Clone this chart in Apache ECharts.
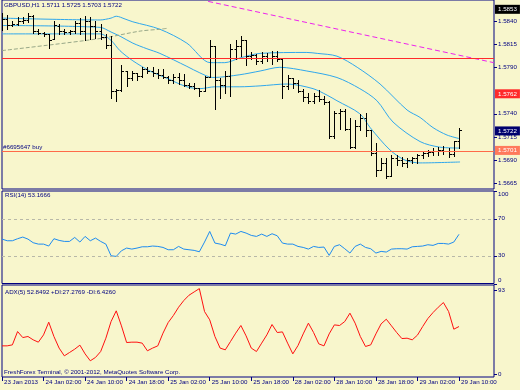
<!DOCTYPE html>
<html><head><meta charset="utf-8">
<script src="https://cdn.jsdelivr.net/npm/echarts@6/dist/echarts.min.js"></script>
<style>html,body{margin:0;padding:0;background:#f8f6cc}#c{width:520px;height:390px}</style>
</head><body><div id="c"></div>
<script>
// ---------- data ----------
const symbol = "GBPUSD,H1";
// bars: [open, high, low, close], hourly, first bar 23 Jan 18:00, last 29 Jan 10:00
const ohlc = [
[1.5840,1.5848,1.5830,1.5842],[1.5842,1.5846,1.5831,1.5836],[1.5836,1.5840,1.5834,1.5837],[1.5837,1.5844,1.5836,1.5840],
[1.5840,1.5844,1.5838,1.5841],[1.5841,1.5849,1.5839,1.5845],[1.5845,1.5846,1.5827,1.5829],[1.5829,1.5831,1.5826,1.5827],
[1.5827,1.5828,1.5824,1.5826],[1.5826,1.5826,1.5811,1.5819],[1.5820,1.5840,1.5820,1.5836],[1.5835,1.5837,1.5826,1.5829],
[1.5829,1.5831,1.5826,1.5828],[1.5828,1.5830,1.5826,1.5829],[1.5829,1.5840,1.5827,1.5838],[1.5838,1.5843,1.5826,1.5829],
[1.5829,1.5845,1.5819,1.5840],[1.5840,1.5844,1.5820,1.5835],[1.5835,1.5840,1.5822,1.5829],[1.5829,1.5837,1.5821,1.5823],
[1.5823,1.5826,1.5811,1.5814],[1.5814,1.5824,1.5757,1.5765],[1.5765,1.5767,1.5754,1.5766],[1.5766,1.5792,1.5765,1.5786],
[1.5786,1.5786,1.5770,1.5778],[1.5778,1.5786,1.5776,1.5784],[1.5784,1.5784,1.5776,1.5781],[1.5781,1.5790,1.5780,1.5788],
[1.5788,1.5790,1.5784,1.5786],[1.5786,1.5790,1.5781,1.5784],[1.5784,1.5788,1.5779,1.5782],[1.5782,1.5788,1.5778,1.5780],
[1.5780,1.5781,1.5773,1.5776],[1.5776,1.5783,1.5773,1.5780],[1.5780,1.5784,1.5772,1.5776],[1.5776,1.5783,1.5770,1.5771],
[1.5771,1.5773,1.5768,1.5770],[1.5770,1.5773,1.5767,1.5768],[1.5768,1.5768,1.5759,1.5765],[1.5765,1.5781,1.5765,1.5780],
[1.5780,1.5819,1.5780,1.5813],[1.5813,1.5813,1.5745,1.5776],[1.5776,1.5779,1.5757,1.5771],[1.5771,1.5786,1.5762,1.5781],
[1.5781,1.5815,1.5759,1.5810],[1.5810,1.5819,1.5799,1.5813],[1.5813,1.5824,1.5802,1.5819],[1.5819,1.5819,1.5792,1.5802],
[1.5802,1.5806,1.5799,1.5803],[1.5803,1.5804,1.5794,1.5797],[1.5797,1.5806,1.5795,1.5802],[1.5802,1.5805,1.5797,1.5800],
[1.5800,1.5808,1.5794,1.5802],[1.5802,1.5808,1.5797,1.5799],[1.5799,1.5799,1.5757,1.5770],[1.5770,1.5782,1.5767,1.5778],
[1.5778,1.5779,1.5768,1.5773],[1.5773,1.5776,1.5763,1.5765],[1.5765,1.5767,1.5754,1.5758],[1.5758,1.5762,1.5752,1.5754],
[1.5754,1.5762,1.5752,1.5759],[1.5759,1.5766,1.5754,1.5756],[1.5756,1.5759,1.5751,1.5753],[1.5753,1.5754,1.5714,1.5716],
[1.5716,1.5743,1.5714,1.5741],[1.5741,1.5745,1.5723,1.5743],[1.5743,1.5745,1.5722,1.5724],[1.5724,1.5735,1.5703,1.5704],
[1.5704,1.5733,1.5703,1.5727],[1.5727,1.5740,1.5722,1.5735],[1.5735,1.5741,1.5716,1.5722],[1.5722,1.5722,1.5695,1.5698],
[1.5698,1.5708,1.5673,1.5679],[1.5679,1.5692,1.5679,1.5687],[1.5687,1.5692,1.5671,1.5673],[1.5673,1.5695,1.5673,1.5692],
[1.5692,1.5695,1.5685,1.5690],[1.5690,1.5693,1.5684,1.5687],[1.5687,1.5692,1.5683,1.5690],[1.5690,1.5693,1.5687,1.5692],
[1.5692,1.5697,1.5687,1.5695],[1.5695,1.5700,1.5692,1.5698],[1.5698,1.5701,1.5694,1.5699],[1.5699,1.5703,1.5695,1.5700],
[1.5700,1.5704,1.5695,1.5701],[1.5701,1.5705,1.5697,1.5700],[1.5700,1.5703,1.5693,1.5697],[1.5697,1.5711,1.5694,1.5711],
[1.5711,1.5725,1.5703,1.5722]
];
const timeLabels = ["23 Jan 2013","24 Jan 02:00","24 Jan 10:00","24 Jan 18:00","25 Jan 02:00","25 Jan 10:00",
  "25 Jan 18:00","28 Jan 02:00","28 Jan 10:00","28 Jan 18:00","29 Jan 02:00","29 Jan 10:00"];
const barsPerLabel = 8;
const priceTicks = [1.5665,1.5690,1.5715,1.5740,1.5790,1.5815,1.5840];
const priceMarks = {high:1.5853, tp:1.5762, order:1.5724, bid:1.5722, sl:1.5701};
const orderText = "#6695647 buy";
// Bollinger-style bands, read as [barIndex, price]
const bandUpper = [[0,1.5843],[18.9,1.5841],[21.0,1.5843],[22.0,1.5845],[23.7,1.5842],[25.2,1.5839],[30.4,1.5831],[35.6,1.5816],
  [40.1,1.5795],[42.9,1.5795],[45.8,1.5800],[49.7,1.5805],[58.7,1.5806],[60.7,1.5805],[64.5,1.5802],[68.4,1.5790],[72.8,1.5772],
  [78.0,1.5744],[80.5,1.5736],[83.0,1.5725],[85.7,1.5717],[88.2,1.5713]];
const bandMiddle = [[0,1.5835],[18.9,1.5833],[21.0,1.5828],[22.9,1.5823],[25.2,1.5816],[27.9,1.5810],[30.4,1.5805],[35.6,1.5791],
  [38.1,1.5784],[40.6,1.5779],[45.8,1.5782],[49.7,1.5786],[53.5,1.5790],[58.7,1.5786],[64.5,1.5779],[68.9,1.5767],[72.2,1.5754],
  [75.3,1.5731],[80.5,1.5710],[84.3,1.5704],[88.2,1.5703]];
const bandLower = [[0,1.5826],[18.9,1.5826],[21.0,1.5819],[22.7,1.5808],[25.2,1.5797],[28.5,1.5786],[31.8,1.5778],[35.6,1.5769],
  [38.1,1.5767],[41.0,1.5769],[45.8,1.5769],[49.7,1.5770],[54.9,1.5772],[59.9,1.5767],[62.6,1.5760],[64.5,1.5754],[68.9,1.5740],
  [70.9,1.5725],[74.7,1.5701],[77.6,1.5690],[80.5,1.5687],[88.2,1.5688]];
const maSlow = [[0,1.5808],[18.9,1.5821],[26.6,1.5829],[30.4,1.5831],[31.8,1.5832]];
const trendLine = [[39.7,1.5861],[94.7,1.5795]];
const rsiLevels = [70,30];
const rsiTicks = [0,30,70,100];
const rsi = [48.0,46.2,46.2,48.4,50.2,48.0,44.1,42.6,42.6,40.5,48.4,46.6,45.5,45.5,49.8,44.8,50.9,46.2,49.1,45.5,
42.6,30.0,29.3,35.4,38.3,37.2,38.3,39.7,39.7,40.5,40.1,39.0,36.5,36.5,40.1,37.2,36.5,35.8,34.3,44.8,
56.3,43.7,42.6,40.8,54.5,53.4,56.3,54.5,52.0,50.9,53.4,50.9,53.8,51.6,43.7,42.6,42.6,40.1,39.0,37.2,
40.1,39.0,39.4,30.4,40.1,41.9,37.6,32.9,40.1,42.6,39.0,37.6,32.9,34.7,34.0,37.2,37.6,37.6,37.2,39.7,
40.1,40.5,41.9,41.2,43.3,43.3,42.6,44.8,53.1666];
const adxTicks = [0,93];
const adx = [31.4,31.4,32.5,47.3,40.6,41.8,38.1,35.5,43.6,57.7,41.8,28.9,20.3,24.0,27.7,32.2,22.5,14.8,18.5,25.1,
39.9,58.4,70.3,53.6,35.1,35.5,35.5,34.4,25.9,28.9,31.4,45.5,57.3,65.1,74.3,81.7,87.6,91.3,95.0,69.5,
60.3,41.8,28.9,27.0,36.2,45.5,54.0,42.5,28.9,25.1,34.4,43.6,55.1,46.2,46.9,34.4,22.5,31.8,44.7,56.6,
46.2,33.6,31.4,44.7,54.7,54.0,58.4,67.7,56.6,41.8,30.7,32.5,44.7,55.8,61.0,53.6,46.2,39.5,39.9,38.1,
43.3,52.8,61.7,68.4,74.3,79.5,69.5,49.9,52.8492];
const plusDI = 27.2769, minusDI = 6.4260;

// ---------- chart ----------
const NAVY = '#000080', FONT = 'Liberation Sans', FS = 6.2, BG = '#f8f6cc';
const xMax = 94.74;
const chart = echarts.init(document.getElementById('c'));
const barData = ohlc.map((b, i) => [i, b[0], b[1], b[2], b[3]]);
const last = ohlc[ohlc.length - 1];
const lblIdx = timeLabels.map((t, k) => k * barsPerLabel);
const boxColor = {};
boxColor[priceMarks.high.toFixed(4)] = '#000000';
boxColor[priceMarks.tp.toFixed(4)] = '#ff2a2a';
boxColor[priceMarks.bid.toFixed(4)] = '#00006e';
boxColor[priceMarks.sl.toFixed(4)] = '#ff7a5c';

function xAx(idx, showLabels) {
  return {type: 'value', gridIndex: idx, min: 0, max: xMax, splitLine: {show: false},
    axisLine: {show: false, onZero: false},
    axisTick: showLabels ? {show: true, customValues: lblIdx, length: 4, lineStyle: {color: NAVY}} : {show: false},
    axisLabel: showLabels ? {show: true, customValues: lblIdx, align: 'left', margin: 2, padding: [0, 0, 0, 2],
      color: NAVY, fontSize: FS, fontFamily: FONT, formatter: v => timeLabels[Math.round(v / barsPerLabel)]} : {show: false}};
}
function yAx(idx, min, max) {
  return {type: 'value', gridIndex: idx, position: 'right', min: min, max: max, splitLine: {show: false},
    axisLine: {show: false, onZero: false}, axisTick: {show: false}, axisLabel: {show: false}};
}
// right-side price/value scale of each panel (tick + label), placed through the panel's scales
function scaleSeries(axisIdx, values, fmt, withTick, vAlign) {
  return {type: 'custom', xAxisIndex: axisIdx, yAxisIndex: axisIdx, data: values.map(v => [xMax, v]), clip: false, silent: true, z: 6,
    renderItem: (p, api) => {
      const v = api.value(1);
      const c = api.coord([api.value(0), v]);
      const y = Math.round(c[1]) + 0.5;
      const s = fmt(v);
      const bg = boxColor[s];
      const va = vAlign ? vAlign(v) : 'middle';
      const kids = [];
      if (withTick && !bg) kids.push({type: 'line', shape: {x1: c[0], y1: y, x2: c[0] + 3, y2: y}, style: {stroke: NAVY, lineWidth: 1}});
      kids.push({type: 'text', x: bg ? c[0] + 1 : c[0] + 4, y: c[1] + (bg ? 0.5 : 0), z2: bg ? 10 : 5,
        style: bg ? {text: s, fill: '#fff', font: FS + 'px ' + FONT, verticalAlign: 'middle', backgroundColor: bg, padding: [2, 3, 1, 3]}
                  : {text: s, fill: NAVY, font: FS + 'px ' + FONT, verticalAlign: va}});
      return {type: 'group', children: kids};
    }};
}
const hl = (v, color, type) => ({yAxis: v, lineStyle: {color: color, type: type, width: 1}, label: {show: false}});
const lineS = (data, color, type, extra) => Object.assign({type: 'line', xAxisIndex: 0, yAxisIndex: 0, data: data, showSymbol: false,
  smooth: 0.3, lineStyle: {color: color, width: 1, type: type || 'solid'}, silent: true, z: 3}, extra || {});

chart.setOption({
  animation: false,
  backgroundColor: BG,
  grid: [
    {left: 2, top: -1, width: 492, height: 190, show: true, borderColor: NAVY, borderWidth: 1},
    {left: 2, top: 191, width: 492, height: 92.5, show: true, borderColor: NAVY, borderWidth: 1},
    {left: 2, top: 285, width: 492, height: 92, show: true, borderColor: NAVY, borderWidth: 1}
  ],
  xAxis: [xAx(0, false), xAx(1, false), xAx(2, true)],
  yAxis: [yAx(0, 1.56589, 1.58625), yAx(1, 0, 100), yAx(2, -3.2, 99)],
  graphic: [
    {type: 'text', left: 4, top: 2, style: {text: symbol + ' ' + last.map(v => v.toFixed(4)).join(' '), fill: NAVY, font: FS + 'px ' + FONT}},
    {type: 'text', left: 5, top: 192, style: {text: 'RSI(14) ' + rsi[rsi.length - 1].toFixed(4), fill: NAVY, font: FS + 'px ' + FONT}},
    {type: 'text', left: 5, top: 289, style: {text: 'ADX(5) ' + adx[adx.length - 1].toFixed(4) + ' +DI:' + plusDI.toFixed(4) + ' -DI:' + minusDI.toFixed(4), fill: NAVY, font: FS + 'px ' + FONT}},
    {type: 'text', left: 4, top: 369, style: {text: 'FreshForex Terminal, \u00a9 2001-2012, MetaQuotes Software Corp.', fill: NAVY, font: FS + 'px ' + FONT}}
  ],
  series: [
    {type: 'custom', xAxisIndex: 0, yAxisIndex: 0, data: barData, encode: {x: 0, y: [1, 2, 3, 4]}, z: 4, clip: true,
      renderItem: (params, api) => {
        const x = api.value(0);
        const o = api.coord([x, api.value(1)]), h = api.coord([x, api.value(2)]),
              l = api.coord([x, api.value(3)]), c = api.coord([x, api.value(4)]);
        const px = Math.round(h[0]) + 0.5;
        const st = {stroke: '#000', lineWidth: 1};
        return {type: 'group', children: [
          {type: 'line', shape: {x1: px, y1: Math.round(h[1]), x2: px, y2: Math.round(l[1]) + 1}, style: st},
          {type: 'line', shape: {x1: px - 2, y1: Math.round(o[1]) + 0.5, x2: px, y2: Math.round(o[1]) + 0.5}, style: st},
          {type: 'line', shape: {x1: px, y1: Math.round(c[1]) + 0.5, x2: px + 2.5, y2: Math.round(c[1]) + 0.5}, style: st}
        ]};
      },
      markLine: {symbol: 'none', silent: true, animation: false, data: [
        hl(priceMarks.high, '#a8a898', [8, 3, 2, 3]),
        hl(priceMarks.tp, '#ff2a2a', 'solid'),
        hl(priceMarks.bid, '#c8c8b8', 'solid'),
        {yAxis: priceMarks.order, lineStyle: {color: '#00cc00', type: [8, 3, 2, 3], width: 1},
          label: {show: true, position: 'insideStartTop', formatter: orderText, color: NAVY, fontSize: FS, fontFamily: FONT, distance: [1, 1]}},
        hl(priceMarks.sl, '#ff6a48', 'solid')
      ]}
    },
    lineS(bandUpper, '#30a8ec'), lineS(bandMiddle, '#30a8ec'), lineS(bandLower, '#30a8ec'),
    lineS(maSlow, '#98a888', [4, 2]),
    lineS(trendLine, '#ee22ee', [5, 3], {smooth: false}),
    {type: 'line', xAxisIndex: 1, yAxisIndex: 1, data: rsi.map((v, i) => [i, v]), showSymbol: false,
      lineStyle: {color: '#1e8cf0', width: 1}, silent: true,
      markLine: {symbol: 'none', silent: true, label: {show: false}, data: rsiLevels.map(v => ({yAxis: v, lineStyle: {color: '#b8b8a8', type: [3, 3], width: 1}}))}},
    {type: 'line', xAxisIndex: 2, yAxisIndex: 2, data: adx.map((v, i) => [i, v]), showSymbol: false,
      lineStyle: {color: '#ff1010', width: 1}, silent: true},
    scaleSeries(0, priceTicks.concat([priceMarks.high, priceMarks.tp, priceMarks.bid, priceMarks.sl]), v => v.toFixed(4), true),
    scaleSeries(1, rsiTicks, v => String(v), true, v => v >= 100 ? 'top' : (v <= 0 ? 'bottom' : 'middle')),
    scaleSeries(2, adxTicks, v => String(v), true)
  ]
});
</script></body></html>
